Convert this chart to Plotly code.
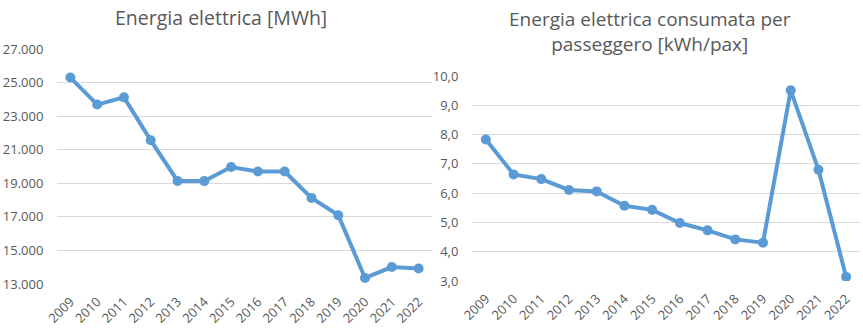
import plotly.graph_objects as go

years = ["2009", "2010", "2011", "2012", "2013", "2014", "2015", "2016", "2017",
         "2018", "2019", "2020", "2021", "2022"]
energy_mwh = [25300, 23690, 24120, 21560, 19140, 19130, 19970, 19700, 19700,
              18130, 17100, 13360, 14010, 13920]
kwh_per_pax = [7.83, 6.64, 6.48, 6.11, 6.06, 5.57, 5.43, 4.98, 4.73,
               4.42, 4.31, 9.51, 6.80, 3.14]
title_left = "Energia elettrica [MWh]"
title_right = "Energia elettrica consumata per<br>passeggero [kWh/pax]"

W, H = 863, 331
LINE = "#5b9bd5"
TXT = "#595959"
GRID = "#d9d9d9"
FONT = "Open Sans"

fig = go.Figure()
fig.add_trace(go.Scatter(x=years, y=energy_mwh, mode="lines+markers",
                         line=dict(color=LINE, width=4),
                         marker=dict(color=LINE, size=10),
                         xaxis="x", yaxis="y", showlegend=False))
fig.add_trace(go.Scatter(x=years, y=kwh_per_pax, mode="lines+markers",
                         line=dict(color=LINE, width=4),
                         marker=dict(color=LINE, size=10),
                         xaxis="x2", yaxis="y2", showlegend=False))

def xax(domain, anchor):
    return dict(domain=domain, anchor=anchor, type="category",
                range=[-0.5, 13.5], tickangle=-45, showgrid=False,
                showline=False, zeroline=False, ticks="outside",
                ticklen=4, tickcolor="rgba(0,0,0,0)", automargin=False,
                tickfont=dict(family=FONT, size=13, color=TXT))

def yax(domain, anchor, rng, dtick, fmt):
    return dict(domain=domain, anchor=anchor, range=rng, dtick=dtick,
                tick0=rng[0], tickformat=fmt, showgrid=True, gridcolor=GRID,
                gridwidth=1, zeroline=False, showline=False, ticks="outside",
                ticklen=10, tickcolor="rgba(0,0,0,0)", automargin=False,
                tickfont=dict(family=FONT, size=13, color=TXT))

fig.update_layout(
    width=W, height=H,
    margin=dict(l=0, r=0, t=0, b=0),
    paper_bgcolor="white", plot_bgcolor="white",
    separators=",.",
    xaxis=xax([57 / W, 432 / W], "y"),
    yaxis=yax([(H - 284) / H, (H - 49) / H], "x", [13000, 27000], 2000, ",.0f"),
    xaxis2=xax([472 / W, 860 / W], "y2"),
    yaxis2=yax([(H - 281) / H, (H - 76) / H], "x2", [3, 10], 1, ".1f"),
    annotations=[
        dict(text=title_left, x=221 / W, y=1 - 17 / H, xref="paper", yref="paper",
             xanchor="center", yanchor="middle", showarrow=False,
             font=dict(family=FONT, size=19.5, color=TXT)),
        dict(text=title_right, x=650 / W, y=1 - 31 / H, xref="paper", yref="paper",
             xanchor="center", yanchor="middle", showarrow=False,
             font=dict(family=FONT, size=19, color=TXT)),
    ],
)

fig.write_html("out.html")
